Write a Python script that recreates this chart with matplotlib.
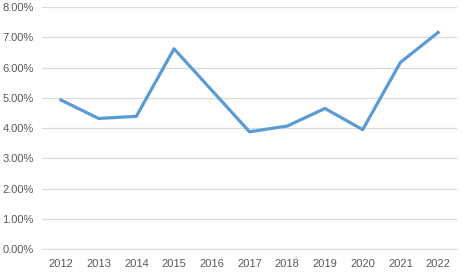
import matplotlib
matplotlib.use("Agg")
import matplotlib.pyplot as plt
from matplotlib.ticker import FuncFormatter

years = ["2012", "2013", "2014", "2015", "2016", "2017", "2018", "2019", "2020", "2021", "2022"]
rates = [4.93, 4.32, 4.39, 6.62, 5.25, 3.88, 4.07, 4.65, 3.95, 6.17, 7.16]

plt.rcParams["font.family"] = ["Liberation Sans", "DejaVu Sans"]

fig = plt.figure(figsize=(4.62, 2.73), dpi=100)
ax = fig.add_axes([42 / 462, 1 - 249.3 / 273, 415 / 462, (249.3 - 7) / 273])

x = range(len(years))
ax.plot(x, rates, color="#5B9BD5", linewidth=2.3, solid_joinstyle="round", zorder=3)

ax.set_xlim(-0.5, len(years) - 0.5)
ax.set_ylim(0, 8)
ax.set_yticks(range(0, 9))
ax.yaxis.set_major_formatter(FuncFormatter(lambda v, p: f"{v:.2f}%"))
ax.set_xticks(list(x))
ax.set_xticklabels(years)

ax.grid(axis="y", color="#D9D9D9", linewidth=0.9)
ax.set_axisbelow(True)
for s in ["top", "right", "left"]:
    ax.spines[s].set_visible(False)
ax.spines["bottom"].set_color("#D9D9D9")
ax.tick_params(length=0, labelsize=8, labelcolor="#595959")
ax.tick_params(axis="x", pad=7)
ax.tick_params(axis="y", pad=6)

fig.savefig("out.png", dpi=100)
